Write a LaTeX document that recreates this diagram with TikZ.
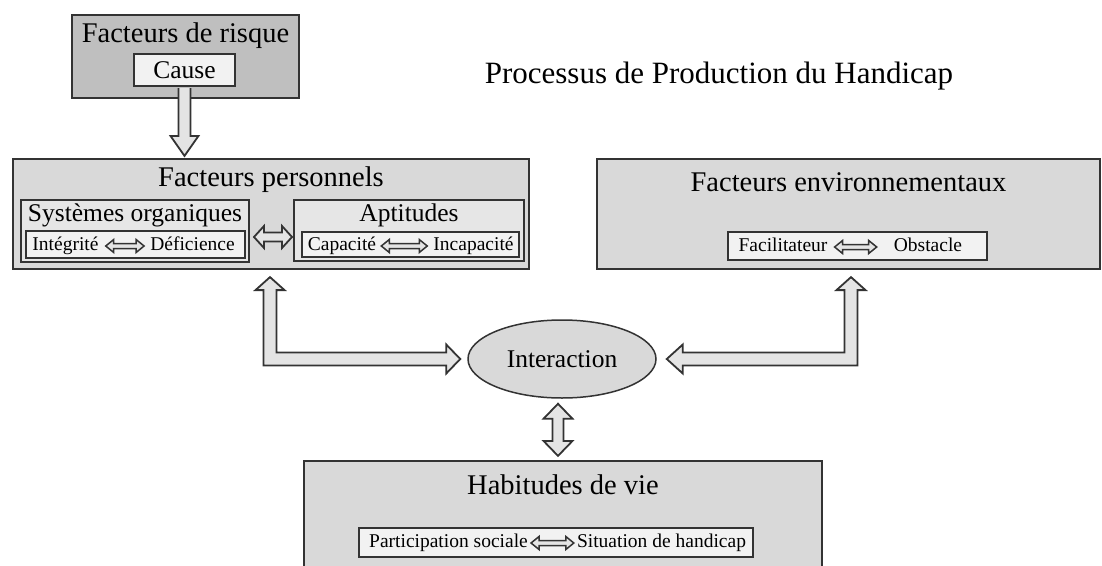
\documentclass[tikz,border=0pt]{standalone}
\usepackage{fontspec}
\setmainfont{Liberation Serif}
\usetikzlibrary{positioning, calc, shapes.geometric}
\definecolor{linegray}{HTML}{333333}
\definecolor{boxgray}{HTML}{D9D9D9}
\definecolor{riskgray}{HTML}{BFBFBF}
\definecolor{midgray}{HTML}{E6E6E6}
\definecolor{lightgray}{HTML}{F2F2F2}
\definecolor{arrowgray}{HTML}{E4E4E4}

% hollow double arrow between two coordinates (style, left, right, shaft half, head half, head length)
\newcommand{\dblharrow}[6]{%
  \draw[#1] (#2) -- ($(#2)+(#6,-#5)$) -- ($(#2)+(#6,-#4)$) -- ($(#3)+(-#6,-#4)$) -- ($(#3)+(-#6,-#5)$) -- (#3)
    -- ($(#3)+(-#6,#5)$) -- ($(#3)+(-#6,#4)$) -- ($(#2)+(#6,#4)$) -- ($(#2)+(#6,#5)$) -- cycle;}

\begin{document}
\begin{tikzpicture}[
    x=1pt, y=-1pt,
    outerbox/.style={rectangle, draw=linegray, line width=2.2pt, fill=boxgray, inner sep=0pt},
    riskbox/.style={outerbox, fill=riskgray},
    midbox/.style={rectangle, draw=linegray, line width=2pt, fill=midgray, inner sep=0pt},
    innerbox/.style={rectangle, draw=linegray, line width=2pt, fill=lightgray, inner sep=0pt},
    headtxt/.style={font=\fontsize{28.5pt}{32pt}\selectfont, inner sep=0pt},
    subtxt/.style={font=\fontsize{25.5pt}{29pt}\selectfont, inner sep=0pt},
    smalltxt/.style={font=\fontsize{19.5pt}{22pt}\selectfont, inner sep=2pt, text height=13.5pt, text depth=4pt},
    fatarrow/.style={draw=linegray, line width=1.8pt, fill=arrowgray, line join=miter},
    thinarrow/.style={draw=linegray, line width=1.5pt, fill=arrowgray, line join=miter}
]
\useasboundingbox (0,0) rectangle (1102,565);
\clip (0,0) rectangle (1102,565);

% Title
\node[font=\fontsize{31pt}{36pt}\selectfont, inner sep=0pt] (ppm) at (719,76) {Processus de Production du Handicap};

% Risk factors
\node[riskbox, minimum width=227pt, minimum height=83pt] (risk) at (185.5,56.5) {};
\node[headtxt] (risktitle) at (185.5,36) {Facteurs de risque};
\node[innerbox, subtxt, minimum width=101pt, minimum height=32pt] (cause) at (184.5,70) {Cause};

% Personal factors
\node[outerbox, minimum width=516pt, minimum height=110pt] (pers) at (271,214) {};
\node[headtxt] (perstitle) at (271,180) {Facteurs personnels};

\node[midbox, minimum width=228pt, minimum height=62pt] (sys) at (135,231) {};
\node[subtxt] (systitle) at (135,215) {Systèmes organiques};
\node[innerbox, minimum width=219pt, minimum height=27pt] (sysrow) at (135.5,244.5) {};
\node[smalltxt] (integ) at (65.5,246) {Intégrité};
\node[smalltxt] (defic) at (192.5,246) {Déficience};

\node[midbox, minimum width=230pt, minimum height=61pt] (apt) at (409,230.5) {};
\node[subtxt] (apttitle) at (409,215) {Aptitudes};
\node[innerbox, minimum width=217pt, minimum height=25pt] (aptrow) at (410.5,244.5) {};
\node[smalltxt] (capa) at (342,246) {Capacité};
\node[smalltxt] (incapa) at (473.5,246) {Incapacité};

% Environmental factors
\node[outerbox, minimum width=503pt, minimum height=110pt] (env) at (848.5,214) {};
\node[headtxt] (envtitle) at (848.5,182) {Facteurs environnementaux};
\node[innerbox, minimum width=259pt, minimum height=28pt] (envrow) at (857.5,246) {};
\node[smalltxt] (facil) at (783,247) {Facilitateur};
\node[smalltxt] (obst) at (928,247) {Obstacle};

% Interaction
\node[ellipse, draw=linegray, line width=1.5pt, fill=boxgray, minimum width=188pt, minimum height=78pt, inner sep=0pt, subtxt] (inter) at (562,359) {Interaction};

% Life habits
\node[outerbox, minimum width=518pt, minimum height=119pt] (hab) at (563,520.5) {};
\node[headtxt] (habtitle) at (563,485) {Habitudes de vie};
\node[innerbox, minimum width=394pt, minimum height=29pt] (habrow) at (556,542.5) {};
\node[smalltxt] (partic) at (448.5,543) {Participation sociale};
\node[smalltxt] (situ) at (661.5,543) {Situation de handicap};

% Small double arrows
\coordinate (ia) at ($(integ.east)+(5,0)$);
\coordinate (ib) at ($(defic.west)+(-4,0)$);
\dblharrow{thinarrow}{ia}{ib}{2.5}{6.5}{8}
\coordinate (ca1) at ($(capa.east)+(3,0)$);
\coordinate (ca2) at ($(incapa.west)+(-4,0)$);
\dblharrow{thinarrow}{ca1}{ca2}{2.5}{6.5}{8}
\coordinate (fa) at ($(facil.east)+(5,0)$);
\coordinate (fb) at ($(obst.west)+(-15,0)$);
\dblharrow{thinarrow}{fa}{fb}{2.5}{6.5}{8}
\coordinate (pa) at ($(partic.east)+(1,0)$);
\coordinate (pb) at ($(situ.west)+(-1,0)$);
\dblharrow{thinarrow}{pa}{pb}{2.5}{6.5}{8}

% Systems <-> aptitudes
\coordinate (sa) at ($(sys.east)+(4,6)$);
\coordinate (sb) at ($(apt.west)+(-1,6.5)$);
\dblharrow{fatarrow}{sa}{sb}{4.5}{11}{10}

% Cause -> personal factors
\coordinate (ca) at (cause.south);
\coordinate (cb) at ($(cause.south |- pers.north)+(0,-2)$);
\draw[fatarrow] ($(ca)+(-6,1)$) -- ($(cb)+(-6,-20)$) -- ($(cb)+(-14,-20)$) -- (cb) -- ($(cb)+(14,-20)$) -- ($(cb)+(6,-20)$) -- ($(ca)+(6,1)$);

% Personal factors <-> interaction
\coordinate (lt) at ($(pers.south)+(-1,7)$);
\coordinate (rt) at ($(inter.west)+(-7,0)$);
\draw[fatarrow] (lt) -- ++(14.5,13) -- ++(-8,0) -- ($(lt |- rt)+(6.5,-6.5)$) -- ($(rt)+(-14,-6.5)$) -- ++(0,-8) -- (rt)
  -- ++(-14,14.5) -- ++(0,-8) -- ($(lt |- rt)+(-6.5,6.5)$) -- ($(lt)+(-6.5,13)$) -- ++(-8,0) -- cycle;

% Environmental factors <-> interaction
\coordinate (lt2) at ($(env.south)+(2.5,7)$);
\coordinate (rt2) at ($(inter.east)+(10,0)$);
\draw[fatarrow] (lt2) -- ++(-14.5,13) -- ++(8,0) -- ($(lt2 |- rt2)+(-6.5,-6.5)$) -- ($(rt2)+(16,-6.5)$) -- ++(0,-8) -- (rt2)
  -- ++(16,14.5) -- ++(0,-8) -- ($(lt2 |- rt2)+(6.5,6.5)$) -- ($(lt2)+(6.5,13)$) -- ++(8,0) -- cycle;

% Interaction <-> life habits
\coordinate (vt) at ($(inter.south)+(-4,5)$);
\coordinate (vb) at ($(hab.north)+(-5,-4)$);
\draw[fatarrow] (vt) -- ++(14.5,15) -- ++(-9,0) -- ($(vb)+(5.5,-15)$) -- ++(9,0) -- (vb)
  -- ++(-14.5,-15) -- ++(9,0) -- ($(vt)+(-5.5,15)$) -- ++(-9,0) -- cycle;

\end{tikzpicture}
\end{document}
